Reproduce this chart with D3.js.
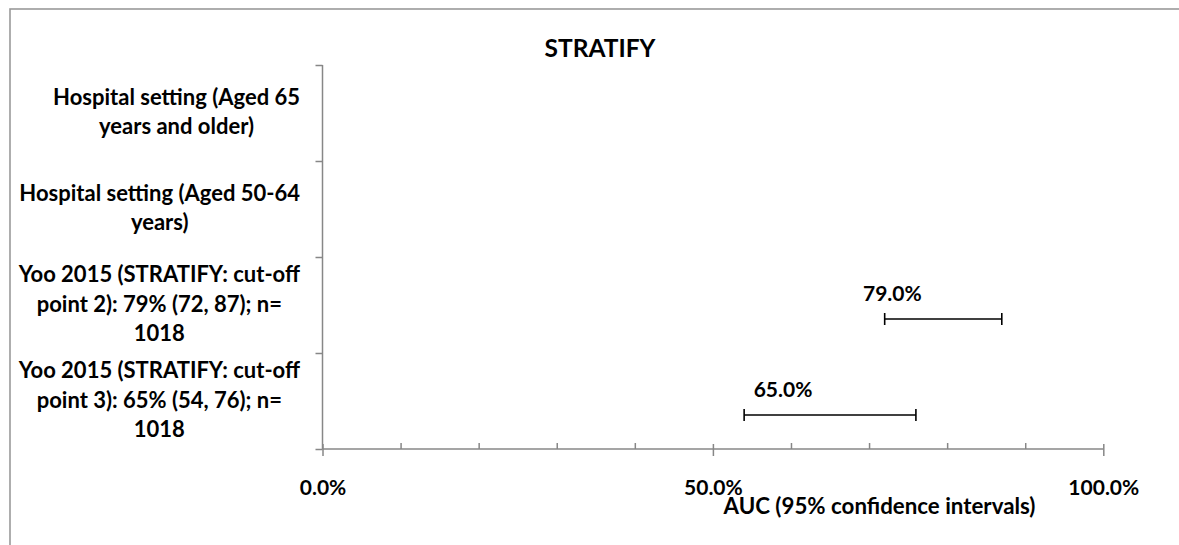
<!DOCTYPE html>
<html>
<head>
<meta charset="utf-8">
<script src="https://cdn.jsdelivr.net/npm/d3@7"></script>
<style>
  html, body { margin: 0; padding: 0; background: #fff; }
  svg { display: block; font-family: Lato, "Open Sans", sans-serif; font-weight: bold; }
</style>
</head>
<body>
<svg id="chart" width="1179" height="545"></svg>
<script>
// Study rows, top to bottom, with their label lines as wrapped on the axis
const categories = [
  "Hospital setting (Aged 65 years and older)",
  "Hospital setting (Aged 50-64 years)",
  "Yoo 2015 (STRATIFY: cut-off point 2): 79% (72, 87); n= 1018",
  "Yoo 2015 (STRATIFY: cut-off point 3): 65% (54, 76); n= 1018"
];
const categoryLines = [
  ["Hospital setting (Aged 65", "years and older)"],
  ["Hospital setting (Aged 50-64", "years)"],
  ["Yoo 2015 (STRATIFY: cut-off", "point 2): 79% (72, 87); n=", "1018"],
  ["Yoo 2015 (STRATIFY: cut-off", "point 3): 65% (54, 76); n=", "1018"]
];
// AUC point estimates and 95% confidence limits (null = no estimate)
const auc   = [null, null, 0.79, 0.65];
const lower = [null, null, 0.72, 0.54];
const upper = [null, null, 0.87, 0.76];
// Axis ticks
const majorTicks = [0, 0.5, 1];
const minorTicks = [0.1, 0.2, 0.3, 0.4, 0.6, 0.7, 0.8, 0.9];

const svg = d3.select("#chart");
const axisColor = "#878787";
const plot = { left: 322.5, right: 1103.3, top: 65, bottom: 449 };

// Outer chart border (runs off the right and bottom edges)
svg.append("rect")
  .attr("x", 10).attr("y", 9)
  .attr("width", 1200).attr("height", 600)
  .attr("fill", "none")
  .attr("stroke", "#9a9a9a")
  .attr("stroke-width", 1.6);

const x = d3.scaleLinear().domain([0, 1]).range([plot.left, plot.right]);
const yBand = d3.scaleBand().domain(categories).range([plot.top, plot.bottom]);
const yEdge = d3.scaleLinear().domain([0, categories.length]).range([plot.top, plot.bottom]);

// Title
svg.append("text")
  .attr("x", 600).attr("y", 56.5)
  .attr("text-anchor", "middle")
  .attr("font-size", 24.5)
  .attr("fill", "#000")
  .text("STRATIFY");

// Vertical axis with ticks on row boundaries
const yAxisG = svg.append("g")
  .attr("transform", `translate(${plot.left},0)`)
  .call(d3.axisLeft(yEdge).tickValues(d3.range(categories.length + 1)).tickSize(7).tickFormat(""));
yAxisG.select(".domain").attr("d", `M0,${plot.top}V${plot.bottom}`);

// Horizontal axis: minor ticks point up, major ticks cross the line
const xMinor = svg.append("g")
  .attr("transform", `translate(0,${plot.bottom})`)
  .call(d3.axisBottom(x).tickValues(minorTicks).tickSize(-6).tickFormat(""));
xMinor.select(".domain").remove();

const xAxisG = svg.append("g")
  .attr("transform", `translate(0,${plot.bottom})`)
  .call(d3.axisBottom(x).tickValues(majorTicks).tickSize(7).tickPadding(24)
    .tickFormat(d3.format(".1%")));
xAxisG.select(".domain").attr("d", `M${plot.left},0H${plot.right}`);
xAxisG.selectAll(".tick line").attr("y1", -5);

svg.selectAll(".domain, .tick line")
  .attr("stroke", axisColor)
  .attr("stroke-width", 1.5);
xAxisG.selectAll(".tick text")
  .attr("font-size", 21)
  .attr("font-family", "Lato, 'Open Sans', sans-serif")
  .attr("font-weight", "bold")
  .attr("fill", "#000");

// Category labels: each line centred within a block right-aligned to the axis
const lineGap = 29.5;
categories.forEach((c, i) => {
  const lines = categoryLines[i];
  const cy = yBand(c) + yBand.bandwidth() / 2;
  const g = svg.append("g");
  const texts = lines.map((ln, j) => g.append("text")
    .attr("y", cy + (j - (lines.length - 1) / 2) * lineGap + 6.5)
    .attr("text-anchor", "middle")
    .attr("font-size", 22)
    .attr("fill", "#000")
    .text(ln));
  const maxW = d3.max(texts, t => t.node().getComputedTextLength());
  texts.forEach(t => t.attr("x", 300 - maxW / 2));
});

// Confidence interval bars with end caps, plus the AUC value label
const rows = categories.map((c, i) => ({ c, auc: auc[i], lo: lower[i], hi: upper[i] }))
  .filter(d => d.auc != null);
const barY = d => yBand(d.c) + yBand.bandwidth() / 2 + 14;
const capH = 6;

const ci = svg.append("g").selectAll("g").data(rows).join("g");
ci.append("line")
  .attr("x1", d => x(d.lo)).attr("x2", d => x(d.hi))
  .attr("y1", barY).attr("y2", barY)
  .attr("stroke", "#000").attr("stroke-width", 1.6);
ci.selectAll(".cap").data(d => [d.lo, d.hi].map(v => ({ v, y: barY(d) }))).join("line")
  .attr("class", "cap")
  .attr("x1", e => x(e.v)).attr("x2", e => x(e.v))
  .attr("y1", e => e.y - capH).attr("y2", e => e.y + capH)
  .attr("stroke", "#000").attr("stroke-width", 1.6);
ci.append("text")
  .attr("x", d => x(d.auc) - 47)
  .attr("y", d => barY(d) - 18.5)
  .attr("text-anchor", "middle")
  .attr("font-size", 21)
  .attr("fill", "#000")
  .text(d => d3.format(".1%")(d.auc));

// Horizontal axis title
svg.append("text")
  .attr("x", 879.5).attr("y", 514)
  .attr("text-anchor", "middle")
  .attr("font-size", 22.3)
  .attr("fill", "#000")
  .text("AUC (95% confidence intervals)");
</script>
</body>
</html>
